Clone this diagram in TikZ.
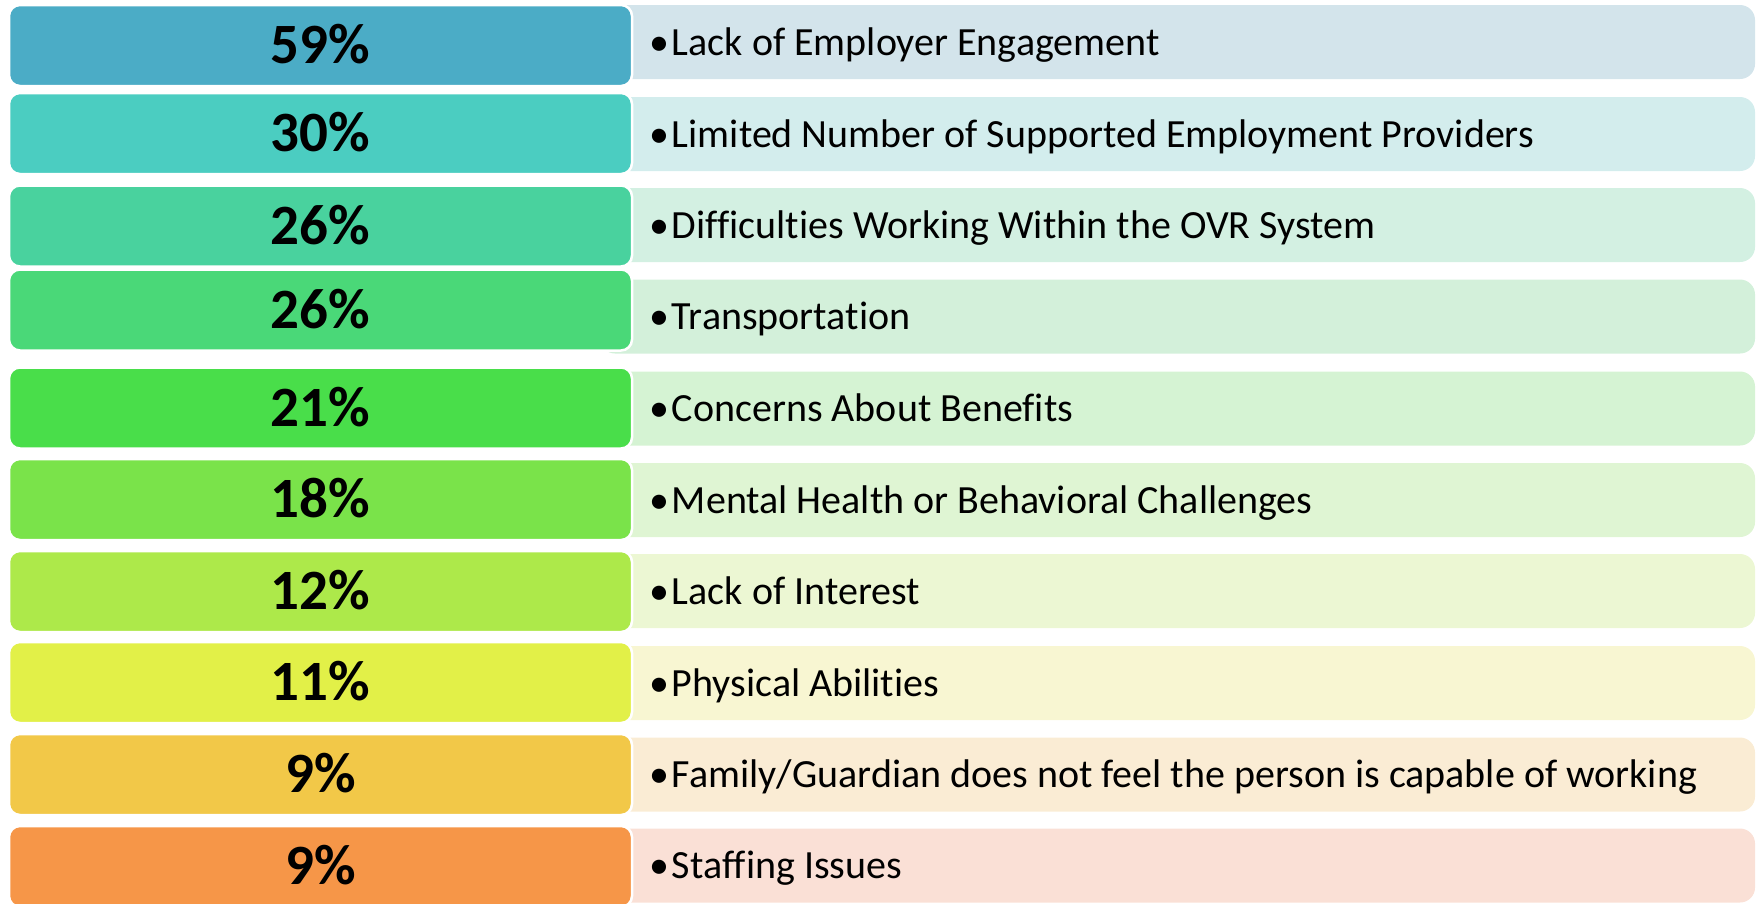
\documentclass[tikz,border=0pt]{standalone}
\usepackage{fontspec}
\setmainfont{Carlito}[Ligatures=NoCommon]
\usetikzlibrary{positioning}

\definecolor{bar1}{RGB}{75,172,198}
\definecolor{bar2}{RGB}{75,205,193}
\definecolor{bar3}{RGB}{73,210,158}
\definecolor{bar4}{RGB}{74,216,120}
\definecolor{bar5}{RGB}{73,222,74}
\definecolor{bar6}{RGB}{122,227,74}
\definecolor{bar7}{RGB}{173,233,74}
\definecolor{bar8}{RGB}{226,240,72}
\definecolor{bar9}{RGB}{242,200,72}
\definecolor{bar10}{RGB}{246,150,72}
\definecolor{back1}{RGB}{211,228,235}
\definecolor{back2}{RGB}{211,237,237}
\definecolor{back3}{RGB}{211,240,226}
\definecolor{back4}{RGB}{211,240,218}
\definecolor{back5}{RGB}{213,243,211}
\definecolor{back6}{RGB}{223,245,211}
\definecolor{back7}{RGB}{236,247,211}
\definecolor{back8}{RGB}{248,246,210}
\definecolor{back9}{RGB}{250,236,212}
\definecolor{back10}{RGB}{250,224,214}

\tikzset{
	pctbox/.style={rounded corners=11pt, minimum width=623pt, minimum height=81pt, inner sep=0pt, draw=white, line width=2.5pt, font=\fontsize{57}{60}\selectfont\bfseries, text height=36pt, text depth=0pt},
	itembox/.style={rounded corners=15pt, minimum width=1155pt, minimum height=74pt, inner sep=0pt},
	itemtext/.style={font=\fontsize{40}{44}\selectfont, inner sep=0pt, text height=26pt, text depth=0pt},
}

\begin{document}
\begin{tikzpicture}[x=1pt, y=-1pt]
			\useasboundingbox (0,0) rectangle (1760,903);
			\clip (0,0) rectangle (1760,903);
			
			% light panels with the reasons
			\node[itembox, fill=back1] (r1) at (1177.5,42) {};
			\node[itembox, fill=back2] (r2) at (1177.5,134) {};
			\node[itembox, fill=back3] (r3) at (1177.5,225) {};
			\node[itembox, fill=back4] (r4) at (1177.5,316.5) {};
			\node[itembox, fill=back5] (r5) at (1177.5,408.5) {};
			\node[itembox, fill=back6] (r6) at (1177.5,500) {};
			\node[itembox, fill=back7] (r7) at (1177.5,591) {};
			\node[itembox, fill=back8] (r8) at (1177.5,683) {};
			\node[itembox, fill=back9] (r9) at (1177.5,774.5) {};
			\node[itembox, fill=back10] (r10) at (1177.5,865.5) {};
			
			\node[itemtext, right=49pt of r1.west] (t1) {\textbullet\hspace{3pt}Lack of Employer Engagement};
			\node[itemtext, right=49pt of r2.west] (t2) {\textbullet\hspace{3pt}Limited Number of Supported Employment Providers};
			\node[itemtext, right=49pt of r3.west] (t3) {\textbullet\hspace{3pt}Difficulties Working Within the OVR System};
			\node[itemtext, right=49pt of r4.west] (t4) {\textbullet\hspace{3pt}Transportation};
			\node[itemtext, right=49pt of r5.west] (t5) {\textbullet\hspace{3pt}Concerns About Benefits};
			\node[itemtext, right=49pt of r6.west] (t6) {\textbullet\hspace{3pt}Mental Health or Behavioral Challenges};
			\node[itemtext, right=49pt of r7.west] (t7) {\textbullet\hspace{3pt}Lack of Interest};
			\node[itemtext, right=49pt of r8.west] (t8) {\textbullet\hspace{3pt}Physical Abilities};
			\node[itemtext, right=49pt of r9.west] (t9) {\textbullet\hspace{3pt}Family/Guardian does not feel the person is capable of working};
			\node[itemtext, right=49pt of r10.west] (t10) {\textbullet\hspace{3pt}Staffing Issues};
			
			% coloured percentage boxes
			\node[pctbox, fill=bar1] (p1) at (320.5,45.5) {59\%};
			\node[pctbox, fill=bar2] (p2) at (320.5,133.5) {30\%};
			\node[pctbox, fill=bar3] (p3) at (320.5,226) {26\%};
			\node[pctbox, fill=bar4] (p4) at (320.5,310) {26\%};
			\node[pctbox, fill=bar5] (p5) at (320.5,408) {21\%};
			\node[pctbox, fill=bar6] (p6) at (320.5,499.5) {18\%};
			\node[pctbox, fill=bar7] (p7) at (320.5,591.5) {12\%};
			\node[pctbox, fill=bar8] (p8) at (320.5,682.5) {11\%};
			\node[pctbox, fill=bar9] (p9) at (320.5,774.5) {9\%};
			\node[pctbox, fill=bar10] (p10) at (320.5,866.5) {9\%};
		\end{tikzpicture}
\end{document}
